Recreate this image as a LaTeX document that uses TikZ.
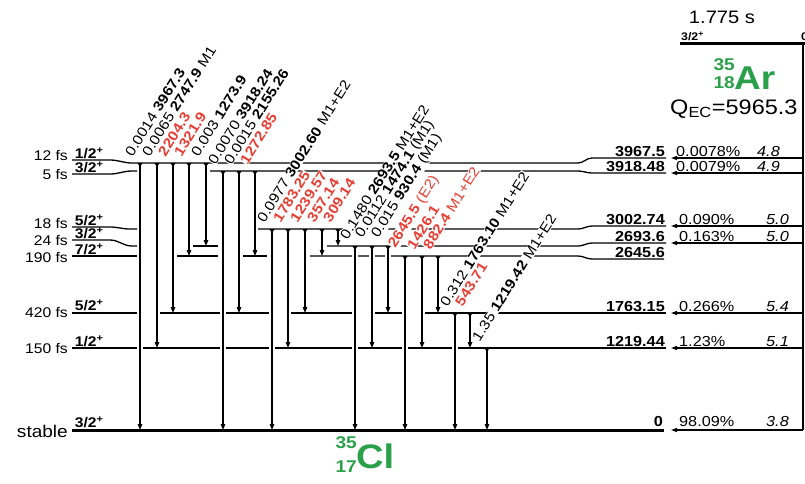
\documentclass[tikz,border=0pt]{standalone}
\usepackage{fontspec}
\setmainfont{Liberation Sans}[FakeStretch=1.12]
\usetikzlibrary{arrows.meta}
\definecolor{lred}{RGB}{232,62,52}
\definecolor{nucg}{RGB}{42,160,74}
\newcommand\fsz[1]{\fontsize{#1}{#1}\selectfont}
\newcommand\trl[3]{\node[lbl] (lab#1) at ([xshift=#1pt-7pt,yshift=5pt]#2) {#3};}
\newcommand\tra[3]{\draw[trans] ([xshift=#1pt]#2) -- ([xshift=#1pt]#3);}
\newcommand\fed[1]{\draw[feed] ([xshift=803pt]#1) -- ([xshift=671pt]#1);}
\begin{document}
\begin{tikzpicture}[x=1pt,y=-1pt,
  lev/.style={line width=1.3pt},
  gnd/.style={line width=3pt},
  trans/.style={line width=1.3pt, arrows={Triangle[reversed,length=4pt,width=5pt]-Triangle[length=6pt,width=4.5pt]}},
  feed/.style={line width=1.2pt, -{Triangle[length=6pt,width=4pt]}},
  lbl/.style={rotate=58, anchor=south west, inner sep=0.4pt, fill=white, font=\fsz{14}},
  hl/.style={anchor=east, inner sep=1pt, font=\fsz{14}},
  spin/.style={anchor=south west, inner sep=0.6pt, font=\bfseries\fsz{14}},
  en/.style={anchor=south east, inner sep=1pt, font=\bfseries\fsz{14.5}},
  pct/.style={anchor=south west, inner sep=1pt, font=\fsz{14.5}},
  lft/.style={anchor=south west, inner sep=1pt, font=\itshape\fsz{14.5}},
  nuc/.style={text=nucg, inner sep=0pt}
]
\useasboundingbox (0,0) rectangle (805,483);

% level reference coordinates (main y)
\coordinate (E3967) at (0,163);
\coordinate (E3918) at (0,171);
\coordinate (E3002) at (0,229);
\coordinate (E2693) at (0,246);
\coordinate (E2645) at (0,256);
\coordinate (E1763) at (0,313);
\coordinate (E1219) at (0,348);
\coordinate (E0) at (0,430);
% right-hand label heights
\coordinate (R3967) at (0,158);
\coordinate (R3918) at (0,173);
\coordinate (R3002) at (0,226);
\coordinate (R2693) at (0,243);
\coordinate (R1763) at (0,313);
\coordinate (R1219) at (0,348);
\coordinate (R0) at (0,430);

% ---- levels of 35Cl
\draw[lev] (72,160) -- (110,160) to[out=0,in=180] (132,163) -- (578,163) to[out=0,in=180] (592,158) -- (666,158);
\draw[lev] (72,174) -- (110,174) to[out=0,in=180] (132,171) -- (137,171);
\draw[lev] (210,171) -- (578,171) to[out=0,in=180] (592,173) -- (666,173);
\draw[lev] (72,227) -- (110,227) to[out=0,in=180] (130,229) -- (137,229);
\draw[lev] (258,229) -- (578,229) to[out=0,in=180] (592,226) -- (666,226);
\draw[lev] (72,240) -- (110,240) to[out=0,in=180] (132,246) -- (137,246);
\draw[lev] (193,246) -- (218,246);
\draw[lev] (327,246) -- (578,246) to[out=0,in=180] (592,243) -- (666,243);
\draw[lev] (72,256) -- (137,256);
\draw[lev] (177,256) -- (218,256);
\draw[lev] (243,256) -- (267,256);
\draw[lev] (310,256) -- (352,256) (358,256) -- (369,256) (375,256) -- (385,256)
  (391,256) -- (578,256) to[out=0,in=180] (592,259) -- (664,259);
\draw[lev] (72,313) -- (137,313) (160,313) -- (220,313) (226,313) -- (269,313)
  (291,313) -- (352,313) (375,313) -- (402,313) (425,313) -- (666,313);
\draw[lev] (72,348) -- (137,348) (143,348) -- (220,348) (226,348) -- (269,348)
  (275,348) -- (352,348) (358,348) -- (402,348) (408,348) -- (452,348) (458,348) -- (666,348);
\draw[gnd] (72,430) -- (664,430);

% ---- left labels
\node[hl] (hl1) at (69,155) {12 fs};
\node[spin] (sp1) at (74,159.5) {1/2\textsuperscript{+}};
\node[hl] (hl2) at (69,174) {5 fs};
\node[spin] (sp2) at (74,173.5) {3/2\textsuperscript{+}};
\node[hl] (hl3) at (69,223) {18 fs};
\node[spin] (sp3) at (74,226.5) {5/2\textsuperscript{+}};
\node[hl] (hl4) at (69,240) {24 fs};
\node[spin] (sp4) at (74,239.5) {3/2\textsuperscript{+}};
\node[hl] (hl5) at (69,257) {190 fs};
\node[spin] (sp5) at (74,255.5) {7/2\textsuperscript{+}};
\node[hl] (hl6) at (69,312) {420 fs};
\node[spin] (sp6) at (74,312) {5/2\textsuperscript{+}};
\node[hl] (hl7) at (69,348) {150 fs};
\node[spin] (sp7) at (74,347.5) {1/2\textsuperscript{+}};
\node[hl, font=\fsz{17}] (hl8) at (69,431) {stable};
\node[spin] (sp8) at (74,428.5) {3/2\textsuperscript{+}};

% ---- right labels
\node[en] (en1) at (666,157.5) {3967.5};
\node[pct] (pc1) at (675,157.5) {0.0078\%};
\node[lft] (lf1) at (756,157.5) {4.8};
\node[en] (en2) at (666,172.5) {3918.48};
\node[pct] (pc2) at (675,172.5) {0.0079\%};
\node[lft] (lf2) at (756,172.5) {4.9};
\node[en] (en3) at (666,225.5) {3002.74};
\node[pct] (pc3) at (678,225.5) {0.090\%};
\node[lft] (lf3) at (765,225.5) {5.0};
\node[en] (en4) at (666,242.5) {2693.6};
\node[pct] (pc4) at (678,242.5) {0.163\%};
\node[lft] (lf4) at (765,242.5) {5.0};
\node[en] (en5) at (666,258.5) {2645.6};
\node[en] (en6) at (666,312.5) {1763.15};
\node[pct] (pc6) at (678,312.5) {0.266\%};
\node[lft] (lf6) at (765,312.5) {5.4};
\node[en] (en7) at (666,347.5) {1219.44};
\node[pct] (pc7) at (678,347.5) {1.23\%};
\node[lft] (lf7) at (765,347.5) {5.1};
\node[en] (en8) at (664,428) {0};
\node[pct] (pc8) at (678,428) {98.09\%};
\node[lft] (lf8) at (765,428) {3.8};

% ---- parent 35Ar
\coordinate (Ptop) at (803,43);
\coordinate (Pbot) at (803,430);
\draw[gnd] (680,43) -- (805,43);
\draw[lev] (Ptop) -- (Pbot);
\node[anchor=south west, inner sep=1pt, font=\bfseries\fsz{11}] (psp) at (680,41.5) {3/2\textsuperscript{+}};
\node[anchor=south west, inner sep=1pt, font=\bfseries\fsz{11}] (pen) at (800,41.5) {0};
\node[anchor=base, inner sep=0pt, font=\fsz{18}] (phl) at (722,23) {1.775 s};
\node[nuc, anchor=base east, font=\bfseries\fsz{17}] (arA) at (735,70) {35};
\node[nuc, anchor=base east, font=\bfseries\fsz{17}] (arZ) at (735,88) {18};
\node[nuc, anchor=base west, font=\bfseries\fsz{33}] (ar) at (734,89) {Ar};
\node[anchor=base west, inner sep=0pt, font=\fsz{21}] (qec) at (670,114) {Q\textsubscript{EC}=5965.3};

% ---- feeding
\fed{R3967}
\fed{R3918}
\fed{R3002}
\fed{R2693}
\fed{R1763}
\fed{R1219}
\fed{R0}

% ---- 35Cl label
\node[nuc, anchor=base east, font=\bfseries\fsz{17}] (clA) at (357,448) {35};
\node[nuc, anchor=base east, font=\bfseries\fsz{17}] (clZ) at (357,472) {17};
\node[nuc, anchor=base west, font=\bfseries\fsz{34}] (cl) at (356,468) {Cl};

% ---- transition labels
\trl{140}{E3967}{0.0014 \textbf{3967.3}}
\trl{157}{E3967}{0.0065 \textbf{2747.9} M1}
\trl{173}{E3967}{\color{lred}\textbf{2204.3}}
\trl{189}{E3967}{\color{lred}\textbf{1321.9}}
\trl{206}{E3967}{0.003 \textbf{1273.9}}
\trl{223}{E3918}{0.0070 \textbf{3918.24}}
\trl{239}{E3918}{0.0015 \textbf{2155.26}}
\trl{255}{E3918}{\color{lred}\textbf{1272.85}}
\trl{272}{E3002}{0.0977 \textbf{3002.60} M1+E2}
\trl{288}{E3002}{\color{lred}\textbf{1783.25}}
\trl{305}{E3002}{\color{lred}\textbf{1239.57}}
\trl{322}{E3002}{\color{lred}\textbf{357.14}}
\trl{338}{E3002}{\color{lred}\textbf{309.14}}
\trl{355}{E2693}{0.1480 \textbf{2693.5} M1+E2}
\trl{372}{E2693}{0.0112 \textbf{1474.1} (M1)}
\trl{388}{E2693}{0.015 \textbf{930.4} (M1)}
\trl{405}{E2645}{\color{lred}\textbf{2645.5} (E2)}
\trl{422}{E2645}{\color{lred}\textbf{1426.1}}
\trl{438}{E2645}{\color{lred}\textbf{882.4} M1+E2}
\trl{455}{E1763}{0.312 \textbf{1763.10} M1+E2}
\trl{470}{E1763}{\color{lred}\textbf{543.71}}
\trl{487}{E1219}{1.35 \textbf{1219.42} M1+E2}

% ---- transitions
\tra{140}{E3967}{E0}
\tra{157}{E3967}{E1219}
\tra{173}{E3967}{E1763}
\tra{189}{E3967}{E2645}
\tra{206}{E3967}{E2693}
\tra{223}{E3918}{E0}
\tra{239}{E3918}{E1763}
\tra{255}{E3918}{E2645}
\tra{272}{E3002}{E0}
\tra{288}{E3002}{E1219}
\tra{305}{E3002}{E1763}
\tra{322}{E3002}{E2645}
\tra{338}{E3002}{E2693}
\tra{355}{E2693}{E0}
\tra{372}{E2693}{E1219}
\tra{388}{E2693}{E1763}
\tra{405}{E2645}{E0}
\tra{422}{E2645}{E1219}
\tra{438}{E2645}{E1763}
\tra{455}{E1763}{E0}
\tra{470}{E1763}{E1219}
\tra{487}{E1219}{E0}
\end{tikzpicture}
\end{document}
